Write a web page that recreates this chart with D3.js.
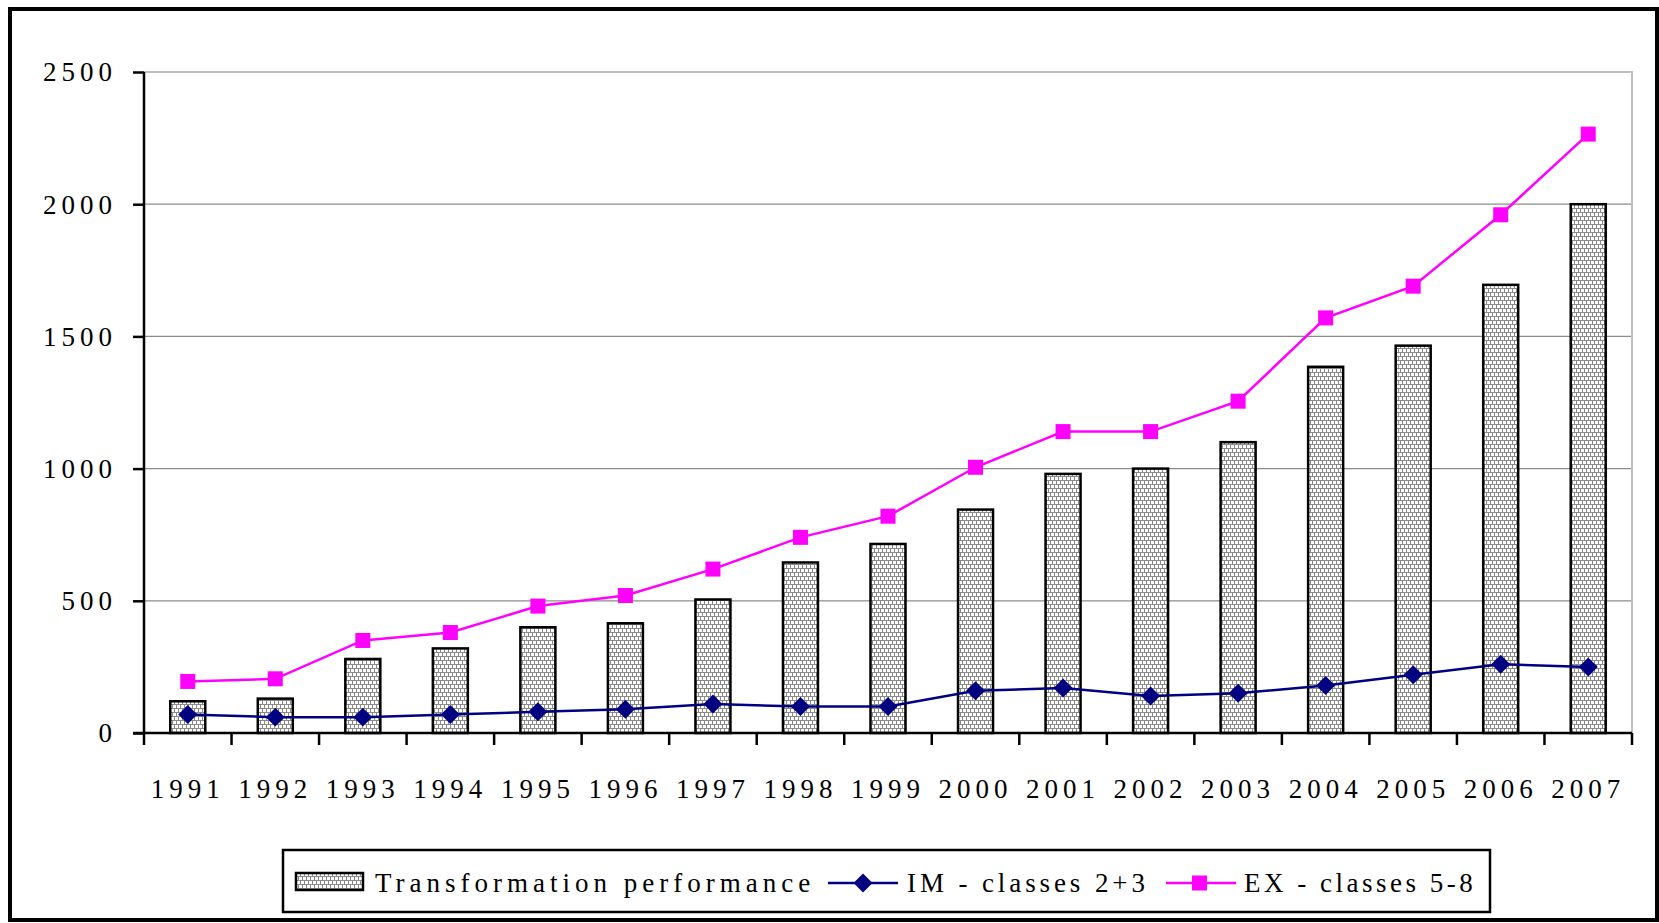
<!DOCTYPE html>
<html>
<head>
<meta charset="utf-8">
<script src="https://cdn.jsdelivr.net/npm/d3@7"></script>
<style>
  html, body { margin: 0; padding: 0; background: #fff; }
  svg { display: block; }
  text { font-family: "Liberation Serif", "DejaVu Serif", serif; fill: #000; }
</style>
</head>
<body>
<svg id="chart" width="1659" height="923"></svg>
<script>
const years = ["1991","1992","1993","1994","1995","1996","1997","1998","1999","2000","2001","2002","2003","2004","2005","2006","2007"];
const transformation = [120,130,280,320,400,415,505,645,715,845,980,1000,1100,1385,1465,1695,2000];
const imClasses = [70,60,60,70,80,90,110,100,100,160,170,140,150,180,220,260,250];
const exClasses = [195,205,350,380,480,520,620,740,820,1005,1140,1140,1255,1570,1690,1960,2265];
const yTicks = [0,500,1000,1500,2000,2500];
const seriesNames = ["Transformation performance","IM - classes 2+3","EX - classes 5-8"];

const W = 1659, H = 923;
const plot = {left: 144, right: 1632, top: 72, bottom: 733};
const svg = d3.select("#chart");
const FS = 27;

// pattern for bars
const defs = svg.append("defs");
const pat = defs.append("pattern").attr("id","brick").attr("patternUnits","userSpaceOnUse")
  .attr("width",4).attr("height",8);
pat.append("rect").attr("width",4).attr("height",8).attr("fill","#fff");
pat.append("rect").attr("x",0).attr("y",0).attr("width",4).attr("height",1).attr("fill","#8a8a8a");
pat.append("rect").attr("x",0).attr("y",4).attr("width",4).attr("height",1).attr("fill","#8a8a8a");
pat.append("rect").attr("x",0).attr("y",0).attr("width",1).attr("height",4).attr("fill","#8a8a8a");
pat.append("rect").attr("x",2).attr("y",4).attr("width",1).attr("height",4).attr("fill","#8a8a8a");

// outer frame
svg.append("rect").attr("x",10).attr("y",9).attr("width",W-12).attr("height",911)
  .attr("fill","none").attr("stroke","#000").attr("stroke-width",4);

const x = d3.scaleBand().domain(years).range([plot.left, plot.right]).padding(0);
const y = d3.scaleLinear().domain([0,2500]).range([plot.bottom, plot.top]);

// gridlines
svg.append("g").selectAll("line").data(yTicks.filter(d => d > 0 && d < 2500)).join("line")
  .attr("x1", plot.left).attr("x2", plot.right)
  .attr("y1", d => y(d)).attr("y2", d => y(d))
  .attr("stroke","#8c8c8c").attr("stroke-width",1.2);
// plot-area border (top and right)
svg.append("path")
  .attr("d", `M${plot.left},${y(2500)}H${plot.right}V${plot.bottom}`)
  .attr("fill","none").attr("stroke","#c0c0c0").attr("stroke-width",2);

// bars
const bw = x.bandwidth()*0.4;
svg.append("g").selectAll("rect").data(years).join("rect")
  .attr("x", d => x(d) + x.bandwidth()/2 - bw/2)
  .attr("y", (d,i) => y(transformation[i]))
  .attr("width", bw)
  .attr("height", (d,i) => y(0) - y(transformation[i]))
  .attr("fill","url(#brick)").attr("stroke","#000").attr("stroke-width",2.5);

// y axis
const yAxis = d3.axisLeft(y).tickValues(yTicks).tickSize(11).tickPadding(21).tickFormat(d3.format("d"));
const gy = svg.append("g").attr("transform",`translate(${plot.left},0)`).call(yAxis);
gy.select(".domain").attr("stroke","#000").attr("stroke-width",2.5).attr("d",`M0,${plot.top}V${plot.bottom}`);
gy.selectAll(".tick line").attr("stroke","#000").attr("stroke-width",2.5);
gy.selectAll(".tick text").attr("font-size",FS).attr("letter-spacing","5px")
  .attr("font-family",'"Liberation Serif", serif').attr("dy","0.33em").attr("dx","5px");

// x axis (ticks at category boundaries)
const gx = svg.append("g").attr("transform",`translate(0,${plot.bottom})`);
gx.append("line").attr("x1",plot.left-11).attr("x2",plot.right).attr("y1",0).attr("y2",0)
  .attr("stroke","#000").attr("stroke-width",2.5);
const boundaries = years.map(d => x(d)).concat([x(years[years.length-1]) + x.bandwidth()]);
gx.selectAll(".bt").data(boundaries).join("line").attr("class","bt")
  .attr("x1", d => d).attr("x2", d => d).attr("y1",0).attr("y2",12)
  .attr("stroke","#000").attr("stroke-width",2.5);
gx.selectAll(".xl").data(years).join("text").attr("class","xl")
  .attr("x", d => x(d) + x.bandwidth()/2).attr("y", 65)
  .attr("text-anchor","middle").attr("font-size",FS).attr("letter-spacing","5px")
  .text(d => d);

const cx = d => x(d) + x.bandwidth()/2;

// IM line
const line = d3.line().x(d => cx(d[0])).y(d => y(d[1]));
const imData = years.map((d,i) => [d, imClasses[i]]);
const exData = years.map((d,i) => [d, exClasses[i]]);
svg.append("path").datum(imData).attr("d", line).attr("fill","none").attr("stroke","#000080").attr("stroke-width",2.5);
svg.append("g").selectAll("path").data(imData).join("path")
  .attr("d", d3.symbol(d3.symbolSquare, 180)())
  .attr("transform", d => `translate(${cx(d[0])},${y(d[1])}) rotate(45)`)
  .attr("fill","#000080");

// EX line
svg.append("path").datum(exData).attr("d", line).attr("fill","none").attr("stroke","#ff00ff").attr("stroke-width",2.5);
svg.append("g").selectAll("rect").data(exData).join("rect")
  .attr("x", d => cx(d[0]) - 7.5).attr("y", d => y(d[1]) - 7.5)
  .attr("width",15).attr("height",15).attr("fill","#ff00ff");

// legend
const lg = svg.append("g");
lg.append("rect").attr("x",283).attr("y",850).attr("width",1207).attr("height",62)
  .attr("fill","#fff").attr("stroke","#000").attr("stroke-width",2.5);
const ly = 883;
lg.append("rect").attr("x",296).attr("y",873).attr("width",67).attr("height",17)
  .attr("fill","url(#brick)").attr("stroke","#000").attr("stroke-width",2.5);
lg.append("text").attr("x",375).attr("y",ly).attr("dy","0.35em").attr("font-size",FS)
  .attr("letter-spacing","5px").text(seriesNames[0]);
lg.append("line").attr("x1",828).attr("x2",898).attr("y1",ly).attr("y2",ly).attr("stroke","#000080").attr("stroke-width",2.5);
lg.append("path").attr("d", d3.symbol(d3.symbolSquare,180)()).attr("transform",`translate(863,${ly}) rotate(45)`).attr("fill","#000080");
lg.append("text").attr("x",907).attr("y",ly).attr("dy","0.35em").attr("font-size",FS)
  .attr("letter-spacing","3.9px").text(seriesNames[1]);
lg.append("line").attr("x1",1166).attr("x2",1236).attr("y1",ly).attr("y2",ly).attr("stroke","#ff00ff").attr("stroke-width",2.5);
lg.append("rect").attr("x",1192).attr("y",ly-7.5).attr("width",15).attr("height",15).attr("fill","#ff00ff");
lg.append("text").attr("x",1244).attr("y",ly).attr("dy","0.35em").attr("font-size",FS)
  .attr("letter-spacing","3.5px").text(seriesNames[2]);
</script>
</body>
</html>
